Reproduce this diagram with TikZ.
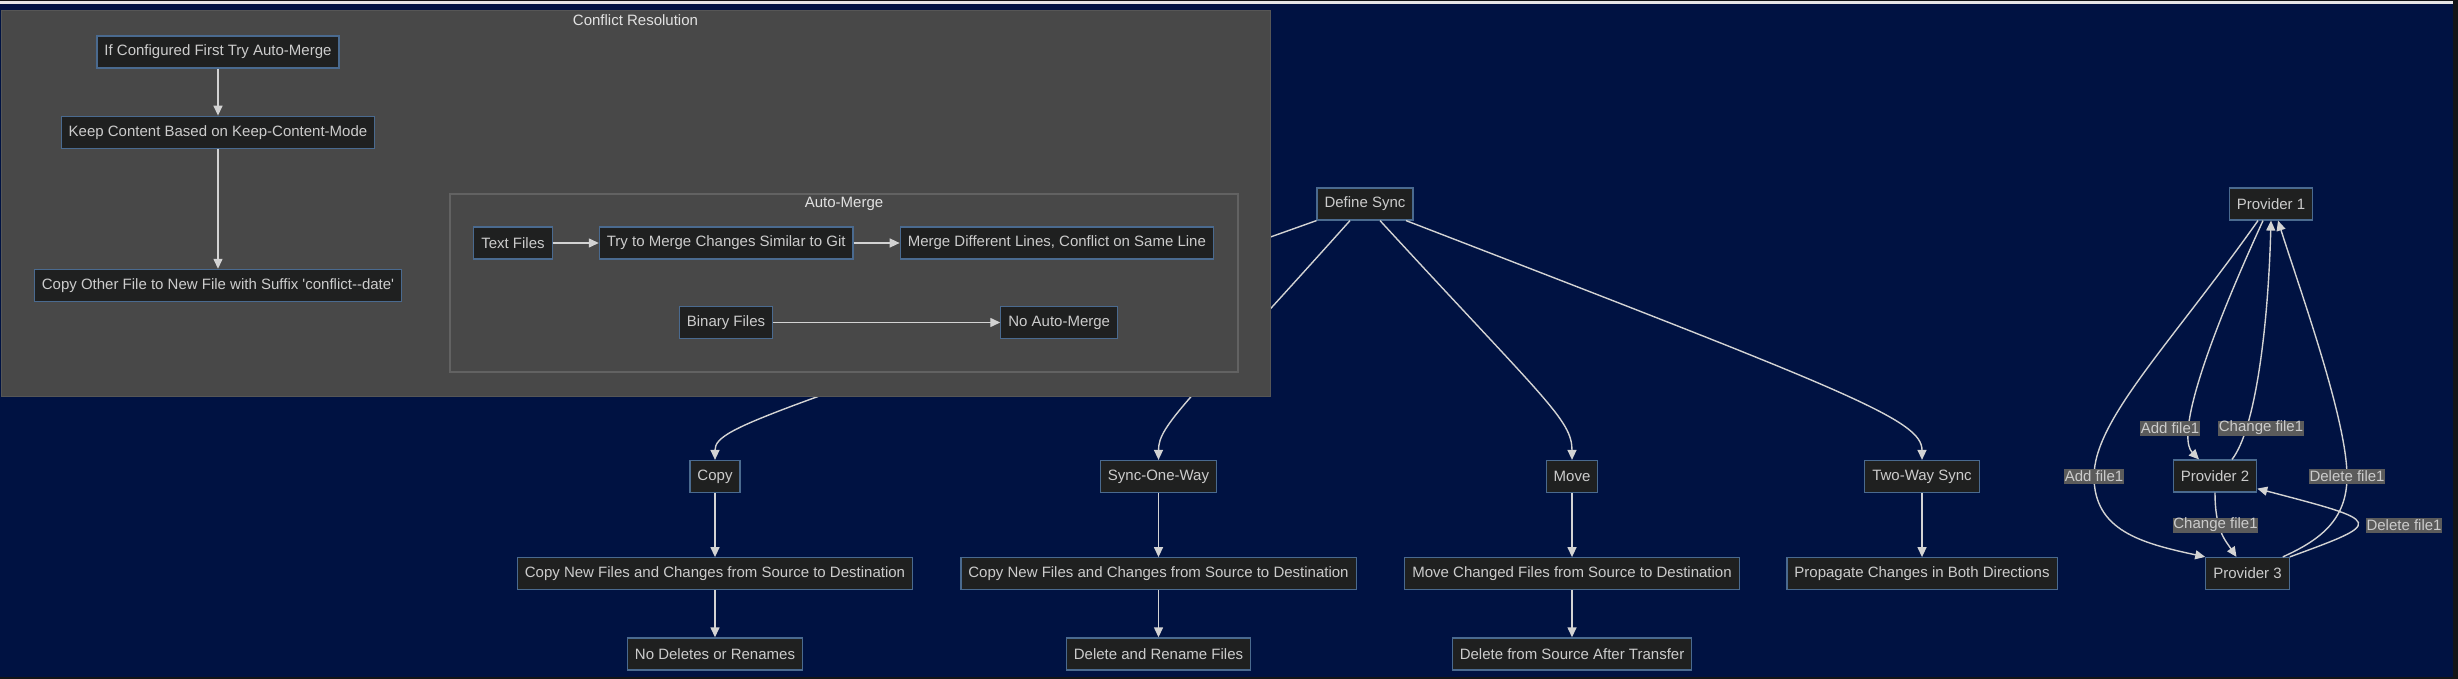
\documentclass[tikz,border=0pt]{standalone}
\usepackage{fontspec}
\setmainfont{Liberation Sans}[Ligatures=TeXOff]
\usetikzlibrary{positioning,arrows.meta}
\definecolor{syncframe}{HTML}{131517}
\definecolor{syncrule}{HTML}{E6E6E6}
\definecolor{syncnavy}{HTML}{001242}
\definecolor{syncgroup}{HTML}{484848}
\definecolor{syncgroupline}{HTML}{565656}
\definecolor{syncsubline}{HTML}{626262}
\definecolor{syncbox}{HTML}{1F2020}
\definecolor{syncboxline}{HTML}{4A6A8F}
\definecolor{synctext}{HTML}{CCCCCC}
\definecolor{synctitle}{HTML}{E2E2E2}
\definecolor{syncline}{HTML}{D3D3D3}
\definecolor{synclabel}{HTML}{5B5B5B}
\newcommand{\syncfont}{\fontsize{7.5pt}{9pt}\selectfont}
\tikzset{
    every edge/.style={draw=syncline,line width=.7pt,-{Triangle[length=5pt,width=4.5pt]}},
    flow/.style={draw=syncline,line width=.7pt,-{Triangle[length=5pt,width=4.5pt]}},
    stepbox/.style={draw=syncboxline,fill=syncbox,text=synctext,line width=.6pt,inner xsep=3.75pt,minimum height=16pt,font=\syncfont},
    elabel/.style={fill=synclabel,text=synctext,inner xsep=.4pt,inner ysep=0pt,minimum height=7.5pt,font=\syncfont},
    group/.style={draw=syncgroupline,fill=syncgroup,line width=.5pt},
    subgroup/.style={draw=syncsubline,fill=syncgroup,line width=.6pt},
    grouptitle/.style={text=synctitle,font=\syncfont,anchor=base,inner sep=0pt},
}

\begin{document}
\begin{tikzpicture}[x=0.5pt,y=-0.5pt]
    \useasboundingbox (0,0) rectangle (2458,679);
    \fill[syncframe] (0,0) rectangle (2458,679);
    \fill[syncrule] (0,1.5) rectangle (2453,4.5);
    \fill[syncnavy] (0,4.5) rectangle (2453,677);

    \node[stepbox] (ds) at (1365,204) {Define Sync};
    \node[stepbox] (cp) at (715,476.5) {Copy};
    \node[stepbox,below=32pt of cp] (cpa) {Copy New Files and Changes from Source to Destination};
    \node[stepbox,below=23.5pt of cpa] (cpb) {No Deletes or Renames};
    \node[stepbox] (sow) at (1158.5,476.5) {Sync-One-Way};
    \node[stepbox,below=32pt of sow] (sowa) {Copy New Files and Changes from Source to Destination};
    \node[stepbox,below=23.5pt of sowa] (sowb) {Delete and Rename Files};
    \node[stepbox] (mv) at (1572,476.5) {Move};
    \node[stepbox,below=32pt of mv] (mva) {Move Changed Files from Source to Destination};
    \node[stepbox,below=23.5pt of mva] (mvb) {Delete from Source After Transfer};
    \node[stepbox] (tw) at (1922,476.5) {Two-Way Sync};
    \node[stepbox,below=32pt of tw] (twa) {Propagate Changes in Both Directions};

    \path (cp) edge (cpa) (cpa) edge (cpb)
          (sow) edge (sowa) (sowa) edge (sowb)
          (mv) edge (mva) (mva) edge (mvb)
          (tw) edge (twa);
    \draw[flow] (ds.south west) .. controls (780,412) and (715,425) .. (cp.north);
    \draw[flow] ([xshift=-7.5pt]ds.south) .. controls (1185,405) and (1158.5,425) .. (sow.north);
    \draw[flow] ([xshift=7.5pt]ds.south) .. controls (1545,400) and (1572,420) .. (mv.north);
    \draw[flow] ([xshift=20.5pt]ds.south) .. controls (1850,392) and (1922,420) .. (tw.north);

    \draw[group] (1,11) rectangle (1270,396);
    \node[grouptitle] (crt) at (635.5,26) {Conflict Resolution};
    \node[stepbox] (cfa) at (218,52) {If Configured First Try Auto-Merge};
    \node[stepbox,below=23.5pt of cfa] (cfb) {Keep Content Based on Keep-Content-Mode};
    \node[stepbox,below=60pt of cfb] (cfc) {Copy Other File to New File with Suffix 'conflict--date'};

    \draw[subgroup] (450,194) rectangle (1238,372);
    \node[grouptitle] (amt) at (844,207.5) {Auto-Merge};
    \node[stepbox] (txt) at (513,243) {Text Files};
    \node[stepbox,right=23pt of txt] (trymerge) {Try to Merge Changes Similar to Git};
    \node[stepbox,right=23pt of trymerge] (mergediff) {Merge Different Lines, Conflict on Same Line};
    \node[stepbox] (bin) at (726,322.5) {Binary Files};
    \node[stepbox,right=113.5pt of bin] (noam) {No Auto-Merge};

    \path (cfa) edge (cfb) (cfb) edge (cfc)
          (txt) edge (trymerge) (trymerge) edge (mergediff)
          (bin) edge (noam);

    \node[stepbox] (pa) at (2271,204) {Provider 1};
    \node[stepbox] (pb) at (2215,476) {Provider 2};
    \node[stepbox] (pc) at (2247.5,573.5) {Provider 3};

    \draw[flow] ([xshift=-6.5pt]pa.south) .. controls (2170,345) and (2094,420) .. (2094,476.5) node[elabel] {Add file1}
        .. controls (2094,530) and (2140,543) .. (pc.north west);
    \draw[flow] ([xshift=-4pt]pa.south) .. controls (2190,380) and (2180,440) .. ([xshift=-8pt]pb.north)
        node[elabel] at (2170,428) {Add file1};
    \draw[flow] ([xshift=8.5pt]pb.north) .. controls (2255,430) and (2268,330) .. (pa.south)
        node[elabel] at (2261,428) {Change file1};
    \draw[flow] ([xshift=-3.5pt]pc.north east) .. controls (2320,540) and (2347,520) .. (2347,476.5) node[elabel] {Delete file1}
        .. controls (2347,420) and (2300,290) .. ([xshift=3.5pt]pa.south);
    \draw[flow] (pc.north east) .. controls (2385,522) and (2385,522) .. ([yshift=2pt]pb.south east)
        node[elabel] at (2404,525) {Delete file1};
    \draw[flow] (pb.south) .. controls (2215,530) and (2225,540) .. ([xshift=-5.5pt]pc.north)
        node[elabel] at (2215.5,525) {Change file1};
\end{tikzpicture}
\end{document}
